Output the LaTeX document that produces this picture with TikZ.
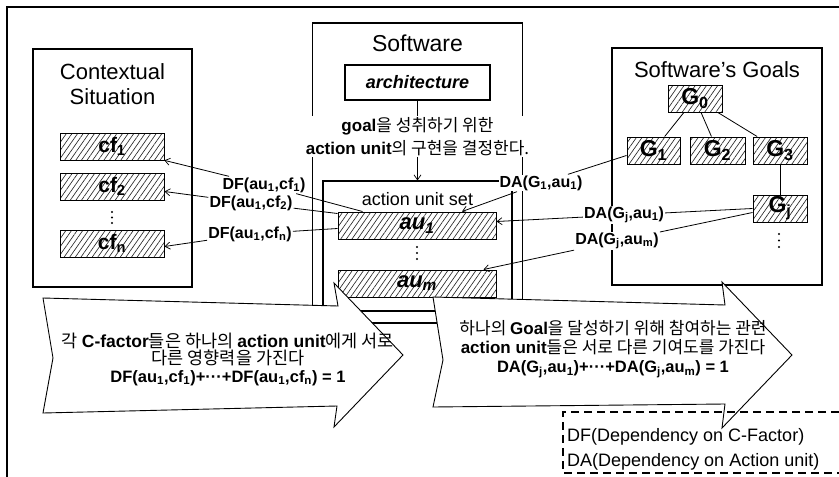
\documentclass[tikz,border=0pt]{standalone}
\usepackage{fontspec}
\setmainfont{Liberation Sans}
\newfontfamily\krfont{Noto Sans CJK KR}
\newcommand\kor[1]{{\krfont #1}}
\usetikzlibrary{patterns,patterns.meta,arrows.meta,calc}
\begin{document}
\begin{tikzpicture}[x=1pt,y=-1pt,
  wh/.style 2 args={minimum width=#1pt,minimum height=#2pt},
  frame/.style={draw,line width=1.1pt,inner sep=0pt},
  hbox/.style={draw,line width=1pt,inner sep=0pt,
    pattern={Lines[angle=55,distance=4.6pt,line width=0.65pt]},pattern color=black!85,
    font=\fontsize{21}{22}\selectfont\bfseries},
  conn/.style={line width=0.8pt},
  tip/.style={-{Straight Barb[length=5pt,width=7pt,line width=0.7pt]}},
  lbl/.style={fill=white,inner sep=1pt,font=\fontsize{16}{18}\selectfont\bfseries},
  title/.style={align=center,font=\fontsize{22}{25}\selectfont},
  bigarrow/.style={draw,fill=white,line width=0.9pt,line join=miter},
  atext/.style={align=center,inner sep=0pt},
  dot/.style={fill=black},
]
\useasboundingbox (0,0) rectangle (839,477);
% outer frame
\draw[line width=1.2pt] (7,477) -- (7,7) -- (839,7);

% Contextual situation
\node[frame,wh={159}{238}] (ctx) at (112.5,168) {};
\node[title] (ctxt) at (112.5,84.5) {Contextual\\Situation};
\node[hbox,wh={104}{27}] (cf1) at (112,146.5) {cf\textsubscript{1}};
\node[hbox,wh={104}{27}] (cf2) at (112,186.5) {cf\textsubscript{2}};
\node[hbox,wh={104}{27}] (cfn) at (112,243.5) {cf\textsubscript{n}};
\fill[dot] (112,212) circle (1.2) (112,217.5) circle (1.2) (112,223) circle (1.2);

% Software
\node[frame,wh={210}{300}] (sw) at (417.5,173) {};
\node[font=\fontsize{23}{25}\selectfont] (swt) at (417.5,43) {Software};
\node[frame,wh={145}{35},font=\fontsize{18}{20}\selectfont\bfseries\itshape] (arch) at (417.5,82.5) {architecture};
\node[frame,wh={189}{130}] (auset) at (417.5,246) {};
\node[font=\fontsize{18}{20}\selectfont] (ausett) at (417.5,199) {action unit set};
\node[hbox,wh={158}{27},font=\fontsize{22}{24}\selectfont\bfseries\itshape] (au1) at (417,225.5) {au\textsubscript{1}};
\node[hbox,wh={158}{27},font=\fontsize{22}{24}\selectfont\bfseries\itshape] (aum) at (417,283.5) {au\textsubscript{m}};
\fill[dot] (417,247) circle (1.2) (417,253) circle (1.2) (417,259) circle (1.2);
\node[fill=white,inner sep=1pt,align=center,font=\fontsize{17}{23}\selectfont] (dec) at (417.5,136.5)
  {\textbf{goal}\kor{을 성취하기 위한}\\\textbf{action unit}\kor{의 구현을 결정한다.}};
\draw[conn] (arch.south) -- (dec.north);
\draw[conn,tip] (dec.south) -- (auset.north);

% Goals
\node[frame,wh={210}{237}] (goals) at (717,166.5) {};
\node[title] (goalst) at (717,70) {Software’s Goals};
\node[hbox,wh={54}{27},font=\fontsize{23}{24}\selectfont\bfseries] (G0) at (695,98.5) {G\textsubscript{0}};
\node[hbox,wh={53}{27},font=\fontsize{23}{24}\selectfont\bfseries] (G1) at (653.5,150.5) {G\textsubscript{1}};
\node[hbox,wh={55}{27},font=\fontsize{23}{24}\selectfont\bfseries] (G2) at (717.5,150.5) {G\textsubscript{2}};
\node[hbox,wh={54}{27},font=\fontsize{23}{24}\selectfont\bfseries] (G3) at (780,150.5) {G\textsubscript{3}};
\node[hbox,wh={54}{27},font=\fontsize{23}{24}\selectfont\bfseries] (Gj) at (780,208.5) {G\textsubscript{j}};
\fill[dot] (779,234) circle (1.2) (779,240.5) circle (1.2) (779,247) circle (1.2);
\draw[conn] (G0) -- (G1);
\draw[conn] (G0) -- (G2);
\draw[conn] (G0) -- (G3);
\draw[conn] (G3) -- (Gj);

% labels
\node[lbl] (df1) at (264,185) {DF(au\textsubscript{1},cf\textsubscript{1})};
\node[lbl] (df2) at (251,203) {DF(au\textsubscript{1},cf\textsubscript{2})};
\node[lbl] (dfn) at (250,234) {DF(au\textsubscript{1},cf\textsubscript{n})};
\node[lbl] (da1) at (541,183) {DA(G\textsubscript{1},au\textsubscript{1})};
\node[lbl] (daj1) at (624,215) {DA(G\textsubscript{j},au\textsubscript{1})};
\node[lbl] (dajm) at (617,241) {DA(G\textsubscript{j},au\textsubscript{m})};

% connectors
\draw[conn,tip] ($(au1.north west)+(25,0)$) -- (df1) -- (cf1.south east);
\draw[conn,tip] ($(au1.north west)+(0,2)$) -- (df2) -- ($(cf2.east)+(0,5)$);
\draw[conn,tip] ($(au1.west)+(0,3)$) -- (dfn) -- ($(cfn.east)+(0,3)$);
\draw[conn,tip] ($(G1.west)+(0,5)$) -- (da1) -- ($(au1.north)+(45,0)$);
\draw[conn,tip] (Gj.west) -- (daj1) -- ($(au1.east)+(0,-4)$);
\draw[conn,tip] ($(Gj.west)+(0,4)$) -- (dajm) -- ($(aum.north east)+(-13,0)$);

% big arrows
\draw[bigarrow] (43,298) -- (338,306) -- (334,283) -- (403,355) -- (334,427) -- (337,406) -- (43,413) -- (53,358) -- cycle;
\draw[bigarrow] (433,297) -- (725,305) -- (722,282) -- (792,355) -- (722,428) -- (725,404) -- (433,407) -- (443,360) -- cycle;
\node[atext,font=\fontsize{17.5}{17.5}\selectfont] (ltext) at (228,359)
  {\kor{각 }\textbf{C-factor}\kor{들은 하나의 }\textbf{action unit}\kor{에게 서로}\\
   \kor{다른 영향력을 가진다}\\
   \fontsize{16.5}{17.5}\selectfont\textbf{DF(au\textsubscript{1},cf\textsubscript{1})+···+DF(au\textsubscript{1},cf\textsubscript{n}) = 1}};
\node[atext,font=\fontsize{17}{19}\selectfont] (rtext) at (613,349)
  {\kor{하나의 }\textbf{Goal}\kor{을 달성하기 위해 참여하는 관련}\\
   \textbf{action unit}\kor{들은 서로 다른 기여도를 가진다}\\
   \fontsize{16.5}{19}\selectfont\textbf{DA(G\textsubscript{j},au\textsubscript{1})+···+DA(G\textsubscript{j},au\textsubscript{m}) = 1}};

% legend
\draw[line width=1.1pt,dash pattern=on 8pt off 5pt] (839,412) -- (563,412) -- (563,473) -- (839,473);
\node[anchor=west,inner sep=0pt,font=\fontsize{18}{20}\selectfont] (leg1) at (567,437) {DF(Dependency on C-Factor)};
\node[anchor=west,inner sep=0pt,font=\fontsize{18}{20}\selectfont] (leg2) at (567,462) {DA(Dependency on Action unit)};
\end{tikzpicture}
\end{document}
